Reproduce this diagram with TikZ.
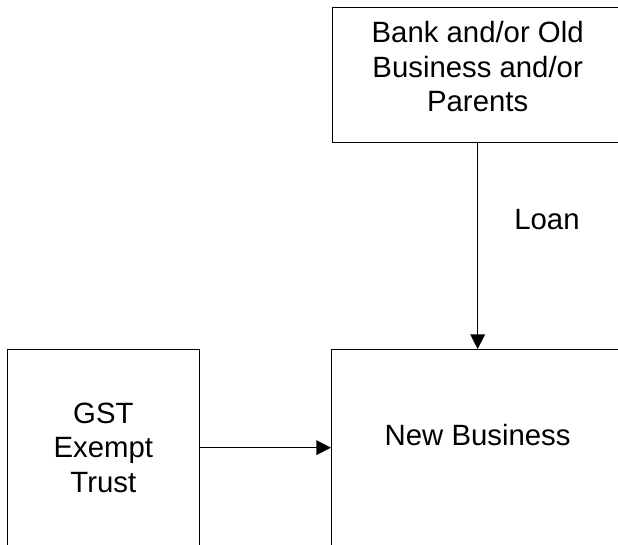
\documentclass[tikz,border=0pt]{standalone}
\usepackage{fontspec}
\setmainfont{Liberation Sans}
\usepackage{tikz}
\usetikzlibrary{arrows.meta, positioning}
\tikzstyle{arrow} = [line width=1pt, -{Triangle[length=11pt, width=11pt]}]

\begin{document}
\begin{tikzpicture}[
    x=0.75pt, y=0.75pt,
    font=\fontsize{22}{25.8}\selectfont,
    party/.style={rectangle, draw=black, line width=1pt, fill=white, align=center},
    tag/.style={inner sep=0pt}
]
\useasboundingbox (0,0) rectangle (618,544);

% Nodes
\node (newbiz) [party, anchor=north west, minimum width=219pt, inner ysep=0pt, text height=72pt, text depth=75pt] at (331,195) {New Business};
\node (trust) [party, left=98.25pt of newbiz, minimum width=144pt, minimum height=147pt] {GST\\ Exempt\\ Trust};
\node (bank) [party, above=154.5pt of newbiz, minimum width=218.25pt, inner ysep=0pt, text height=78.4pt, text depth=22.9pt] {Bank and/or Old\\ Business and/or\\ Parents};

% Edges
\draw [arrow] (bank) -- node[tag, pos=0.37, right=27pt] {Loan} (newbiz);
\draw [arrow] (trust) -- (newbiz);

\end{tikzpicture}
\end{document}
